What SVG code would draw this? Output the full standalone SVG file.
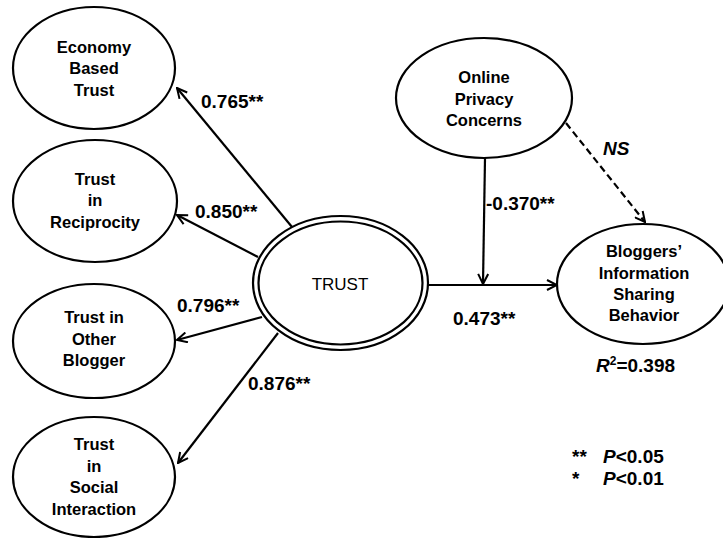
<svg xmlns="http://www.w3.org/2000/svg" width="723" height="538" viewBox="0 0 723 538">
<defs>
<marker id="arr" viewBox="0 0 12 12" refX="11" refY="6" markerWidth="12" markerHeight="12" markerUnits="userSpaceOnUse" orient="auto">
<path d="M1,1 L11,6 L1,11" fill="none" stroke="#000" stroke-width="2"/>
</marker>
</defs>
<style>
.n{fill:#fff;stroke:#000;stroke-width:2.2}
.t{font-family:"Liberation Sans",Arial,sans-serif;font-size:16.5px;font-weight:bold;text-anchor:middle;fill:#000}
.l{font-family:"Liberation Sans",Arial,sans-serif;font-size:19px;font-weight:bold;fill:#000}
.c{fill:none;stroke:#000;stroke-width:2.2}
</style>
<rect width="723" height="538" fill="#fff"/>
<g id="connectors">
<line class="c" x1="292" y1="227" x2="177" y2="88" marker-end="url(#arr)"/>
<line class="c" x1="258" y1="257" x2="177" y2="215" marker-end="url(#arr)"/>
<line class="c" x1="262" y1="317" x2="177" y2="340" marker-end="url(#arr)"/>
<line class="c" x1="278" y1="333" x2="178" y2="463" marker-end="url(#arr)"/>
<line class="c" x1="428" y1="285" x2="557" y2="285" marker-end="url(#arr)"/>
<line class="c" x1="485" y1="158" x2="483" y2="284" marker-end="url(#arr)"/>
<line class="c" x1="566" y1="123" x2="645" y2="222" stroke-dasharray="7,4" marker-end="url(#arr)"/>
</g>
<g id="economy">
<ellipse class="n" cx="94" cy="68" rx="81" ry="61"/>
<text class="t" x="94" y="53">Economy</text>
<text class="t" x="94" y="74">Based</text>
<text class="t" x="94" y="96">Trust</text>
</g>
<g id="reciprocity">
<ellipse class="n" cx="95" cy="201" rx="82" ry="61"/>
<text class="t" x="95" y="185">Trust</text>
<text class="t" x="95" y="206">in</text>
<text class="t" x="95" y="228">Reciprocity</text>
</g>
<g id="otherblogger">
<ellipse class="n" cx="94" cy="341" rx="81" ry="57"/>
<text class="t" x="94" y="323">Trust in</text>
<text class="t" x="94" y="345">Other</text>
<text class="t" x="94" y="366">Blogger</text>
</g>
<g id="social">
<ellipse class="n" cx="94" cy="477" rx="81" ry="60"/>
<text class="t" x="94" y="450">Trust</text>
<text class="t" x="94" y="472">in</text>
<text class="t" x="94" y="493">Social</text>
<text class="t" x="94" y="515">Interaction</text>
</g>
<g id="trust">
<ellipse class="n" cx="340.5" cy="283" rx="87.5" ry="67"/>
<ellipse class="n" cx="340.5" cy="283" rx="82" ry="61.5"/>
<text class="t" x="340" y="290" style="font-weight:normal;font-size:17px">TRUST</text>
</g>
<g id="privacy">
<ellipse class="n" cx="484" cy="98" rx="88" ry="60"/>
<text class="t" x="484" y="83">Online</text>
<text class="t" x="484" y="105">Privacy</text>
<text class="t" x="484" y="126">Concerns</text>
</g>
<g id="bloggers">
<ellipse class="n" cx="643" cy="284" rx="86" ry="60"/>
<text class="t" x="644" y="257">Bloggers’</text>
<text class="t" x="644" y="279">Information</text>
<text class="t" x="644" y="300">Sharing</text>
<text class="t" x="644" y="321">Behavior</text>
</g>
<g id="labels">
<text class="l" x="201" y="108">0.765**</text>
<text class="l" x="195" y="218">0.850**</text>
<text class="l" x="177" y="312">0.796**</text>
<text class="l" x="248" y="390">0.876**</text>
<text class="l" x="486" y="210">-0.370**</text>
<text class="l" x="603" y="155" font-style="italic">NS</text>
<text class="l" x="453" y="325">0.473**</text>
<text class="l" x="596" y="372"><tspan font-style="italic">R</tspan><tspan font-size="12" dy="-7">2</tspan><tspan dy="7">=0.398</tspan></text>
<text class="l" x="572" y="463">**</text>
<text class="l" x="603" y="463"><tspan font-style="italic">P</tspan>&lt;0.05</text>
<text class="l" x="572" y="485">*</text>
<text class="l" x="603" y="485"><tspan font-style="italic">P</tspan>&lt;0.01</text>
</g>
</svg>
